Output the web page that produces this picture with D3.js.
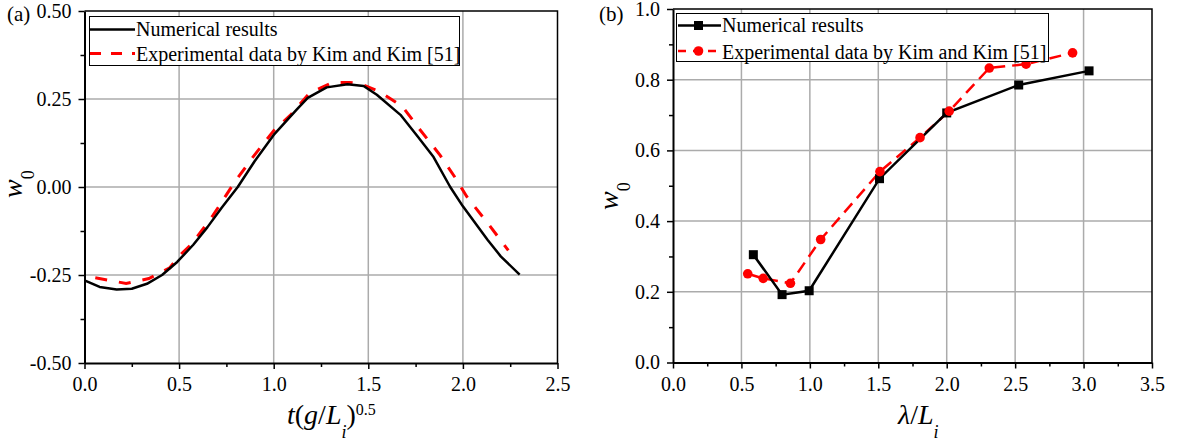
<!DOCTYPE html>
<html>
<head>
<meta charset="utf-8">
<script src="https://cdn.jsdelivr.net/npm/d3@7"></script>
<style>
  body { margin: 0; background: #fff; }
  svg { display: block; font-family: "Liberation Serif", "Times New Roman", serif; }
</style>
</head>
<body>
<svg id="fig" width="1177" height="445"></svg>
<script>
// ---- Panel (a): time history of w0 ----
const numT = [0.0, 0.08, 0.17, 0.25, 0.33, 0.41, 0.49, 0.575, 0.65, 0.725, 0.81, 0.90, 1.0, 1.12, 1.18, 1.28, 1.39, 1.475, 1.545, 1.67, 1.76, 1.845, 1.933, 2.0, 2.13, 2.2, 2.3];
const numW = [-0.265, -0.284, -0.291, -0.289, -0.275, -0.250, -0.213, -0.164, -0.114, -0.059, 0.0, 0.074, 0.148, 0.219, 0.253, 0.283, 0.292, 0.287, 0.262, 0.205, 0.144, 0.085, 0.0, -0.055, -0.150, -0.197, -0.249];
const expT = [0.057, 0.22, 0.34, 0.45, 0.50, 0.57, 0.68, 0.79, 0.89, 1.0, 1.09, 1.19, 1.31, 1.40, 1.46, 1.56, 1.68, 1.77, 1.88, 1.96, 2.02, 2.13, 2.24];
const expW = [-0.258, -0.274, -0.260, -0.230, -0.196, -0.160, -0.080, 0.011, 0.085, 0.160, 0.205, 0.267, 0.297, 0.297, 0.293, 0.271, 0.229, 0.165, 0.090, 0.026, -0.027, -0.102, -0.180];
const aXTicks = [0, 0.5, 1.0, 1.5, 2.0, 2.5];
const aYTicks = [-0.5, -0.25, 0, 0.25, 0.5];

// ---- Panel (b): w0 against wavelength ratio ----
const numLam = [0.587, 0.797, 0.995, 1.509, 2.0, 2.526, 3.04];
const numW0 = [0.305, 0.192, 0.203, 0.520, 0.706, 0.785, 0.825];
const expLam = [0.546, 0.659, 0.858, 1.079, 1.512, 1.805, 2.018, 2.311, 2.58, 2.92];
const expW0 = [0.251, 0.238, 0.224, 0.348, 0.540, 0.636, 0.711, 0.833, 0.844, 0.876];
const bXTicks = [0, 0.5, 1.0, 1.5, 2.0, 2.5, 3.0, 3.5];
const bYTicks = [0, 0.2, 0.4, 0.6, 0.8, 1.0];

const legendLabels = ["Numerical results", "Experimental data by Kim and Kim [51]"];

const svg = d3.select("#fig");
const RED = "#ff0000";

function mids(t) { const m = []; for (let i = 0; i < t.length - 1; i++) m.push((t[i] + t[i + 1]) / 2); return m; }

function drawFrame(x, y, xTicks, yTicks, xFmt, yFmt) {
  const [xl, xr] = x.range();
  const [yb, yt] = y.range();
  const g = svg.append("g");
  // grid
  g.append("g").selectAll("line").data(xTicks.slice(1, -1)).join("line")
    .attr("x1", d => x(d)).attr("x2", d => x(d)).attr("y1", yb).attr("y2", yt)
    .attr("stroke", "#ababab").attr("stroke-width", 1.5);
  g.append("g").selectAll("line").data(yTicks.slice(1, -1)).join("line")
    .attr("y1", d => y(d)).attr("y2", d => y(d)).attr("x1", xl).attr("x2", xr)
    .attr("stroke", "#ababab").attr("stroke-width", 1.5);
  // top and right border
  g.append("path").attr("d", `M${xl},${yt}H${xr}V${yb}`)
    .attr("fill", "none").attr("stroke", "#000").attr("stroke-width", 1.5);
  // minor ticks
  g.append("g").attr("transform", `translate(0,${yb})`)
    .call(d3.axisBottom(x).tickValues(mids(xTicks)).tickFormat("").tickSize(4).tickSizeOuter(0))
    .call(s => s.select(".domain").remove())
    .call(s => s.selectAll("line").attr("stroke-width", 1.5));
  g.append("g").attr("transform", `translate(${xl},0)`)
    .call(d3.axisLeft(y).tickValues(mids(yTicks)).tickFormat("").tickSize(4).tickSizeOuter(0))
    .call(s => s.select(".domain").remove())
    .call(s => s.selectAll("line").attr("stroke-width", 1.5));
  // major axes
  const xa = g.append("g").attr("transform", `translate(0,${yb})`)
    .call(d3.axisBottom(x).tickValues(xTicks).tickFormat(xFmt).tickSize(6).tickSizeOuter(0).tickPadding(8));
  const ya = g.append("g").attr("transform", `translate(${xl},0)`)
    .call(d3.axisLeft(y).tickValues(yTicks).tickFormat(yFmt).tickSize(6).tickSizeOuter(0).tickPadding(7));
  [xa, ya].forEach(a => {
    a.attr("font-family", null).attr("font-size", null);
    a.select(".domain").attr("stroke-width", 2);
    a.selectAll("line").attr("stroke-width", 1.5);
    a.selectAll("text").attr("font-size", 20).attr("fill", "#000");
  });
}

// ===== Panel (a) =====
const xA = d3.scaleLinear().domain([0, 2.5]).range([84.5, 557.5]);
const yA = d3.scaleLinear().domain([-0.5, 0.5]).range([363, 11]);
drawFrame(xA, yA, aXTicks, aYTicks, d => d.toFixed(1), d => d.toFixed(2));

const lineA = d3.line().x(d => xA(d[0])).y(d => yA(d[1]));
svg.append("path").datum(d3.zip(expT, expW)).attr("d", lineA)
  .attr("fill", "none").attr("stroke", RED).attr("stroke-width", 3).attr("stroke-dasharray", "12,12");
svg.append("path").datum(d3.zip(numT, numW)).attr("d", lineA)
  .attr("fill", "none").attr("stroke", "#000").attr("stroke-width", 2.5).attr("stroke-linejoin", "round");

// legend (a)
const legA = svg.append("g");
legA.append("rect").attr("x", 89.5).attr("y", 16.5).attr("width", 370).attr("height", 49)
  .attr("fill", "#fff").attr("stroke", "#000").attr("stroke-width", 1);
legA.append("line").attr("x1", 90).attr("x2", 135).attr("y1", 29.5).attr("y2", 29.5)
  .attr("stroke", "#000").attr("stroke-width", 2.5);
legA.append("line").attr("x1", 90).attr("x2", 135).attr("y1", 53.5).attr("y2", 53.5)
  .attr("stroke", RED).attr("stroke-width", 3).attr("stroke-dasharray", "11,10");
legA.selectAll("text").data(legendLabels).join("text")
  .attr("x", 136).attr("y", (d, i) => 35.5 + i * 25.5).attr("font-size", 20).text(d => d);

svg.append("text").attr("x", 7).attr("y", 21).attr("font-size", 21).text("(a)");

// axis titles (a)
const tA = svg.append("text").attr("x", 287).attr("y", 424).attr("font-size", 28);
tA.append("tspan").attr("font-style", "italic").text("t");
tA.append("tspan").text("(");
tA.append("tspan").attr("font-style", "italic").text("g");
tA.append("tspan").text("/");
tA.append("tspan").attr("font-style", "italic").text("L");
tA.append("tspan").attr("font-style", "italic").attr("font-size", 18).attr("dy", 14).text("i");
tA.append("tspan").attr("dy", -14).text(")");
tA.append("tspan").attr("font-size", 16).attr("dy", -9).text("0.5");

const wA = svg.append("text").attr("transform", "translate(22,198) rotate(-90)").attr("font-size", 28);
wA.append("tspan").attr("font-style", "italic").text("w");
wA.append("tspan").attr("font-size", 18).attr("dy", 12).text("0");

// ===== Panel (b) =====
const xB = d3.scaleLinear().domain([0, 3.5]).range([673, 1152]);
const yB = d3.scaleLinear().domain([0, 1.0]).range([362.5, 9]);
drawFrame(xB, yB, bXTicks, bYTicks, d => d.toFixed(1), d => d.toFixed(1));

const lineB = d3.line().x(d => xB(d[0])).y(d => yB(d[1]));
const expB = d3.zip(expLam, expW0);
const numB = d3.zip(numLam, numW0);
svg.append("path").datum(expB).attr("d", lineB)
  .attr("fill", "none").attr("stroke", RED).attr("stroke-width", 2.5).attr("stroke-dasharray", "12,7");
svg.append("path").datum(numB).attr("d", lineB)
  .attr("fill", "none").attr("stroke", "#000").attr("stroke-width", 2.5);
svg.append("g").selectAll("rect").data(numB).join("rect")
  .attr("x", d => xB(d[0]) - 4.5).attr("y", d => yB(d[1]) - 4.5)
  .attr("width", 9).attr("height", 9).attr("fill", "#000");
svg.append("g").selectAll("circle").data(expB).join("circle")
  .attr("cx", d => xB(d[0])).attr("cy", d => yB(d[1])).attr("r", 4.8).attr("fill", RED);

// legend (b)
const legB = svg.append("g");
legB.append("rect").attr("x", 676.5).attr("y", 13.5).attr("width", 372).attr("height", 48)
  .attr("fill", "#fff").attr("stroke", "#000").attr("stroke-width", 1);
legB.append("line").attr("x1", 678).attr("x2", 721).attr("y1", 25.5).attr("y2", 25.5)
  .attr("stroke", "#000").attr("stroke-width", 2.5);
legB.append("rect").attr("x", 694).attr("y", 21).attr("width", 9).attr("height", 9).attr("fill", "#000");
legB.append("line").attr("x1", 678).attr("x2", 721).attr("y1", 51).attr("y2", 51)
  .attr("stroke", RED).attr("stroke-width", 2.5).attr("stroke-dasharray", "8,7");
legB.append("circle").attr("cx", 698.5).attr("cy", 51).attr("r", 4.8).attr("fill", RED);
legB.selectAll("text").data(legendLabels).join("text")
  .attr("x", 722).attr("y", (d, i) => 32 + i * 27).attr("font-size", 20).text(d => d);

svg.append("text").attr("x", 599).attr("y", 21).attr("font-size", 21).text("(b)");

// axis titles (b)
const tB = svg.append("text").attr("x", 898).attr("y", 424).attr("font-size", 28);
tB.append("tspan").attr("font-style", "italic").text("λ");
tB.append("tspan").text("/");
tB.append("tspan").attr("font-style", "italic").text("L");
tB.append("tspan").attr("font-style", "italic").attr("font-size", 18).attr("dy", 14).text("i");

const wB = svg.append("text").attr("transform", "translate(618,210) rotate(-90)").attr("font-size", 28);
wB.append("tspan").attr("font-style", "italic").text("w");
wB.append("tspan").attr("font-size", 18).attr("dy", 12).text("0");
</script>
</body>
</html>
